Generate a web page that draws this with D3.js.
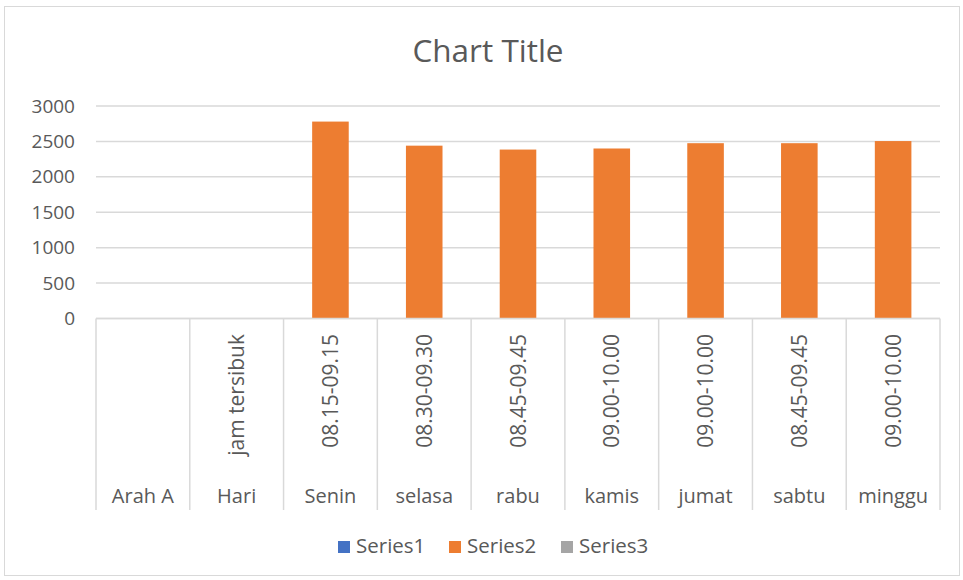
<!DOCTYPE html>
<html><head><meta charset="utf-8">
<script src="https://cdn.jsdelivr.net/npm/d3@7"></script>
<style>body{margin:0;background:#fff}svg{display:block}text{font-family:"Open Sans",sans-serif}</style>
</head><body>
<svg id="c" width="963" height="580"></svg>
<script>
const outerLabels = ["Arah A","Hari","Senin","selasa","rabu","kamis","jumat","sabtu","minggu"];
const innerLabels = ["","jam tersibuk","08.15-09.15","08.30-09.30","08.45-09.45","09.00-10.00","09.00-10.00","08.45-09.45","09.00-10.00"];
const series1 = [null,null,null,null,null,null,null,null,null];
const series2 = [null,null,2780,2440,2385,2400,2475,2475,2505];
const series3 = [null,null,null,null,null,null,null,null,null];
const seriesNames = ["Series1","Series2","Series3"];
const seriesColors = ["#4472C4","#ED7D31","#A5A5A5"];
const yTicks = [0,500,1000,1500,2000,2500,3000];

(function(){
const svg = d3.select("#c");
svg.append("rect").attr("x",4.5).attr("y",6.5).attr("width",955).attr("height",569)
  .attr("fill","#fff").attr("stroke","#d9d9d9").attr("stroke-width",1);

svg.append("text").attr("x",488).attr("y",62).attr("text-anchor","middle")
  .attr("font-size",31.5).attr("fill","#595959").text("Chart Title");

const pL=96, pR=940, pT=106, pB=318.5;
const x = d3.scaleBand().domain(d3.range(outerLabels.length)).range([pL,pR]).padding(0);
const y = d3.scaleLinear().domain([0,3000]).range([pB,pT]);

svg.append("g").selectAll("line").data(yTicks).join("line")
  .attr("x1",pL).attr("x2",pR).attr("y1",d=>y(d)).attr("y2",d=>y(d))
  .attr("stroke","#d9d9d9").attr("stroke-width",1.5);

const yAxis = d3.axisLeft(y).tickValues(yTicks).tickSize(0).tickPadding(0).tickFormat(d3.format("d"));
const gy = svg.append("g").attr("transform",`translate(75,0)`).call(yAxis);
gy.select(".domain").remove();
gy.selectAll("text").attr("font-size",19).attr("fill","#595959").attr("font-family","'Open Sans',sans-serif");

const bw = x.bandwidth()*0.39;
[series1,series2,series3].forEach((s,si)=>{
  svg.append("g").selectAll("rect").data(s.map((v,i)=>({v,i})).filter(d=>d.v!=null)).join("rect")
    .attr("x",d=>x(d.i)+x.bandwidth()/2-bw/2).attr("width",bw)
    .attr("y",d=>y(d.v)).attr("height",d=>y(0)-y(d.v)).attr("fill",seriesColors[si]);
});

const ax = svg.append("g");
ax.append("line").attr("x1",pL).attr("x2",pR).attr("y1",pB).attr("y2",pB)
  .attr("stroke","#d9d9d9").attr("stroke-width",1.5);
const edges = d3.range(outerLabels.length+1).map(i=> i<outerLabels.length? x(i): pR);
ax.selectAll("line.v").data(edges).join("line").attr("class","v")
  .attr("x1",d=>d).attr("x2",d=>d).attr("y1",pB).attr("y2",510)
  .attr("stroke","#d9d9d9").attr("stroke-width",1.5);

svg.append("g").selectAll("text").data(innerLabels.map((t,i)=>({t,i}))).join("text")
  .attr("transform",d=>`translate(${x(d.i)+x.bandwidth()/2+7.5},334) rotate(-90)`)
  .attr("text-anchor","end").attr("font-size",21).attr("fill","#595959").text(d=>d.t);

svg.append("g").selectAll("text").data(outerLabels.map((t,i)=>({t,i}))).join("text")
  .attr("x",d=>x(d.i)+x.bandwidth()/2).attr("y",503).attr("text-anchor","middle")
  .attr("font-size",20).attr("fill","#595959").text(d=>d.t);

const legX=[338,449,561];
const lg = svg.append("g");
seriesNames.forEach((n,i)=>{
  lg.append("rect").attr("x",legX[i]).attr("y",541).attr("width",12).attr("height",12).attr("fill",seriesColors[i]);
  lg.append("text").attr("x",legX[i]+18).attr("y",553).attr("font-size",20.5).attr("fill","#595959").text(n);
});
})();
</script>
</body></html>
